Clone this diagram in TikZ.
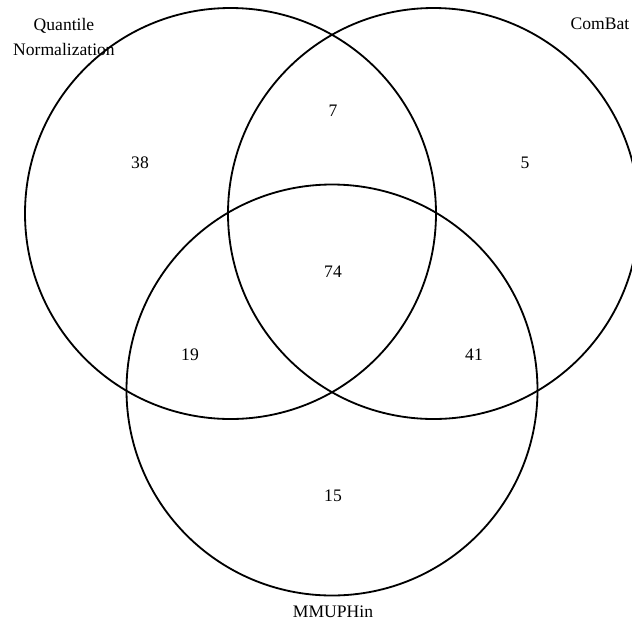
\documentclass[tikz,border=0pt]{standalone}
\usepackage{fontspec}
\setmainfont{Liberation Serif}
\usepackage{tikz}

\begin{document}
\begin{tikzpicture}[
  x=0.025cm, y=-0.025cm,
  line cap=round,
  line join=round,
  every node/.style={font=\fontsize{12.5}{17.5}\selectfont},
  setline/.style={line width=1.3pt, black}
]
  \useasboundingbox (0,0) rectangle (632,627);
  \clip (0,0) rectangle (632,627);

  \coordinate (qn) at (230.5, 213.5);
  \coordinate (cb) at (433.5, 213.5);
  \coordinate (mm) at (332, 390);

  % the three sets
  \foreach \ctr in {qn, cb, mm}{
    \draw[setline] (\ctr) circle (205.5);
  }

  % set names
  \node[align=center] (qnlab) at (64, 37) {Quantile\\Normalization};
  \node (cblab) at (600, 24) {ComBat};
  \node (mmlab) at (333, 612) {MMUPHin};

  % region counts
  \node (nq)   at (140, 163) {38};
  \node (nqc)  at (333, 111) {7};
  \node (nc)   at (525, 163) {5};
  \node (nall) at (333, 272) {74};
  \node (nqm)  at (190, 355) {19};
  \node (ncm)  at (474, 355) {41};
  \node (nm)   at (333, 496) {15};
\end{tikzpicture}
\end{document}
